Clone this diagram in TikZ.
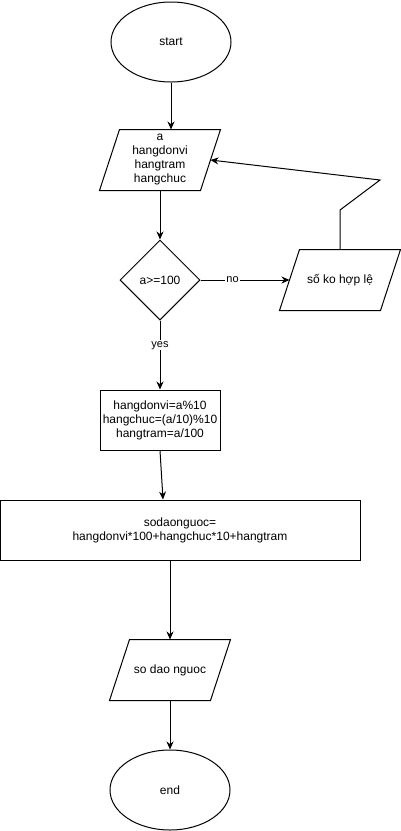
\documentclass[tikz,border=0pt]{standalone}
\usepackage{fontspec}
\setmainfont{Liberation Sans}
\usetikzlibrary{shapes.geometric,arrows.meta,calc}
\begin{document}
\begin{tikzpicture}[x=1pt,y=-1pt,
  base/.style={draw=black,line width=1pt,font=\fontsize{12}{14}\selectfont,align=center,inner sep=0pt},
  term/.style={base,ellipse,minimum width=120pt,minimum height=80pt},
  io/.style={base,draw=none,rectangle,minimum width=120pt,minimum height=60pt},
  proc/.style={base,rectangle,minimum height=60pt},
  dec/.style={base,diamond,minimum width=80pt,minimum height=80pt},
  arr/.style={draw=black,line width=1pt,-{Stealth[length=8pt,width=7pt]}},
  edge/.style={draw=black,line width=1pt},
  lbl/.style={fill=white,font=\fontsize{11}{13}\selectfont,inner sep=1pt}
]
\useasboundingbox (0,0) rectangle (401,831);
\node[term] (start) at (171,42) {start};
\node[io] (in) at (160,160) {a\\hangdonvi\\hangtram\\hangchuc};
\node[dec] (cond) at (160,280) {a>=100};
\node[io] (err) at (340,280) {số ko hợp lệ};
\node[proc,minimum width=120pt] (calcA) at (160,420) {hangdonvi=a\%10\\hangchuc=(a/10)\%10\\hangtram=a/100};
\node[proc,minimum width=360pt] (calcB) at (180,530) {sodaonguoc=\\hangdonvi*100+hangchuc*10+hangtram};
\node[io] (out) at (170,670) {so dao nguoc};
\node[term] (stop) at (170,790) {end};
\foreach \p in {in,err,out}{
  \draw[edge] ($(\p.north west)+(20,0)$) -- (\p.north east) -- ($(\p.south east)+(-20,0)$) -- (\p.south west) -- cycle;
}
\coordinate (knee) at (340,210);
\coordinate (bend) at (380,180);

\draw[arr] (start.south) -- (start.south |- in.north);
\draw[arr] (in.south) -- (cond.north);
\draw[arr] (cond.east) -- node[lbl,pos=0.36]{no} ($(err.west)+(10,0)$);
\draw[arr] (err.north) -- (knee) -- (bend) -- ($(in.east)+(-10,0)$);
\draw[arr] (cond.south) -- node[lbl,pos=0.36]{yes} (calcA.north);
\draw[arr] (calcA.south) -- ($(calcB.north)+(-17,0)$);
\draw[arr] (out.north |- calcB.south) -- (out.north);
\draw[arr] (out.south) -- (stop.north);
\end{tikzpicture}
\end{document}
